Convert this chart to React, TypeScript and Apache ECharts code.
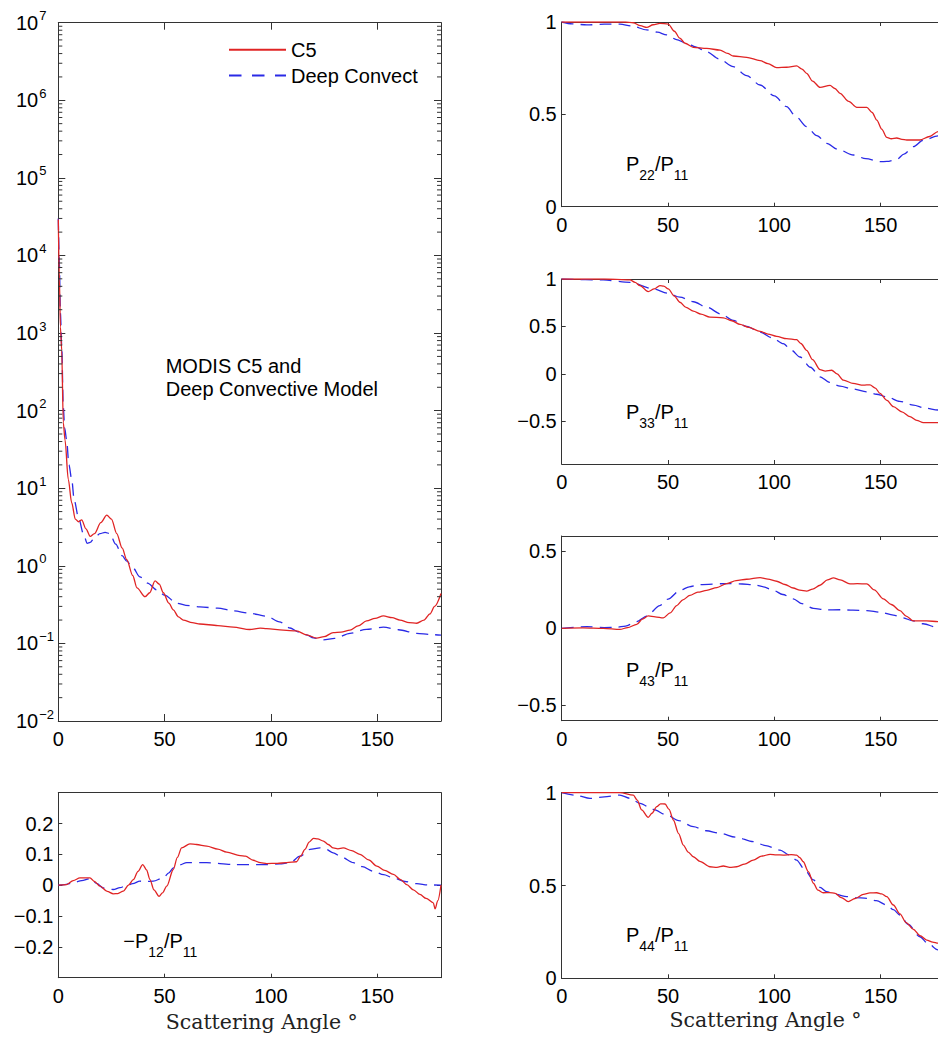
import React, { useEffect, useRef } from 'react';
import * as echarts from 'echarts';

const SANS = '"Liberation Sans", Arial, Helvetica, sans-serif';
const SERIF = '"DejaVu Serif", "Liberation Serif", serif';
const RED = '#e02424';
const BLUE = '#2a2ae6';
const AXIS = '#333333';

// ---- tick values ----
const xTicks = [0, 50, 100, 150];
const m12Ticks = [-0.2, -0.1, 0, 0.1, 0.2];
const p22Ticks = [0, 0.5, 1];
const p33Ticks = [-0.5, 0, 0.5, 1];
const p43Ticks = [-0.5, 0, 0.5];
const p44Ticks = [0, 0.5, 1];
const logMinorDecades = [-2, -1, 0, 1, 2, 3, 4, 5, 6];
const logMinorMultipliers = [2, 3, 4, 5, 6, 7, 8, 9];

// ---- data: [scattering angle, value] ----
const p11C5 = [[0,29000],[0.5,5000],[1,1200],[1.6,600],[2.35,70],[3.15,42],[4.7,13],[6.3,6.5],[8,4.0],[9.5,3.7],[11,3.9],[13,3.0],[15,2.4],[17,2.6],[20,3.6],[22.8,4.5],[25,4.0],[27.5,2.6],[30,1.7],[32.2,1.2],[35,0.75],[37,0.52],[40.8,0.40],[43,0.45],[45.5,0.64],[47.5,0.58],[49.4,0.45],[52,0.33],[54.1,0.27],[56.5,0.22],[58.8,0.20],[63,0.185],[66.6,0.178],[75,0.17],[82.3,0.162],[90,0.151],[95,0.157],[98,0.155],[105.8,0.148],[112,0.145],[116.8,0.129],[121.5,0.117],[125,0.122],[129.3,0.138],[133,0.140],[137.2,0.148],[141,0.168],[145,0.195],[149,0.21],[152.9,0.226],[157,0.215],[160.7,0.20],[165,0.185],[168.6,0.182],[172,0.20],[174.8,0.24],[177,0.30],[180,0.44]];
const p11Deep = [[0,30000],[0.5,8000],[1,1800],[1.6,700],[2.35,112],[3,60],[3.9,42],[5,20],[6.3,13],[7.5,7],[9.4,4.3],[11.8,2.6],[13.6,1.95],[15,2.0],[17,2.3],[19.6,2.6],[22,2.7],[24.3,2.6],[27,1.9],[30,1.35],[32.2,1.15],[35,0.95],[38.4,0.72],[42,0.6],[46.3,0.49],[50,0.42],[55.7,0.33],[60,0.31],[66.6,0.295],[75,0.285],[82.3,0.263],[90,0.245],[98,0.224],[104,0.19],[109,0.158],[113,0.14],[116.8,0.129],[120,0.118],[124.7,0.111],[130,0.116],[137.2,0.135],[145,0.152],[152.9,0.162],[160,0.15],[168.6,0.135],[175,0.13],[180,0.128]];

const m12C5 = [[0,0],[3.9,0.002],[7,0.015],[10.2,0.024],[14.9,0.024],[17,0.012],[19.6,-0.003],[23,-0.02],[25.9,-0.028],[28,-0.027],[30.6,-0.019],[33,0],[35.3,0.018],[37.5,0.045],[39.7,0.067],[41.5,0.05],[43.1,0.018],[45,-0.015],[47.4,-0.036],[49,-0.025],[51,-0.003],[54.1,0.051],[56,0.09],[58,0.121],[61.9,0.134],[65,0.132],[69.8,0.127],[75,0.117],[79.2,0.107],[85.5,0.096],[88,0.094],[91.7,0.081],[95,0.073],[98,0.070],[103,0.071],[107.4,0.073],[112.1,0.076],[114,0.095],[116,0.116],[118,0.14],[120,0.152],[122,0.15],[124.7,0.143],[127,0.132],[129.3,0.121],[131.5,0.118],[134,0.121],[138,0.112],[141.9,0.100],[146,0.082],[149.8,0.062],[153.5,0.048],[157.6,0.035],[161,0.018],[163.9,0.002],[167,-0.015],[170.1,-0.030],[173,-0.043],[176.4,-0.057],[177.2,-0.077],[178.5,-0.05],[180,0]];
const m12Deep = [[0,0],[3,0.002],[7,0.008],[11,0.015],[14.9,0.021],[18,0.006],[21.2,-0.009],[25.9,-0.014],[29,-0.008],[32.2,-0.001],[35,0.005],[38.4,0.013],[41,0.012],[44.7,0.013],[49.4,0.024],[52,0.04],[54.1,0.056],[57,0.066],[60.4,0.073],[69.8,0.073],[82.3,0.067],[98,0.067],[104,0.069],[109,0.073],[113.7,0.094],[118.4,0.116],[123.1,0.121],[126,0.116],[129.3,0.105],[133,0.092],[138.8,0.073],[143,0.06],[148.2,0.045],[153,0.034],[157.6,0.024],[163,0.012],[168.6,0.005],[174,0.001],[180,0]];

const p22C5 = [[0,1],[10,1],[20,1],[30,1],[33.7,0.996],[37,0.98],[40,0.971],[43,0.985],[46.2,0.993],[50.1,0.989],[53,0.95],[55.6,0.912],[58,0.885],[61.9,0.863],[68.2,0.857],[74.5,0.848],[78,0.83],[80.7,0.816],[87,0.809],[93.3,0.791],[97,0.775],[101.1,0.753],[105.8,0.755],[110.5,0.762],[113,0.745],[115.2,0.722],[118,0.68],[121.5,0.646],[126.2,0.657],[128.5,0.64],[130.9,0.614],[135,0.57],[138.8,0.538],[143.5,0.538],[146,0.51],[148.2,0.469],[150.5,0.42],[152.9,0.375],[155,0.368],[157.6,0.372],[160,0.365],[162.3,0.361],[168.5,0.361],[173,0.38],[177,0.406],[180,0.42]];
const p22Deep = [[0,1],[5,0.99],[11.8,0.984],[20,0.988],[27.4,0.989],[33,0.978],[40,0.957],[45,0.945],[49.4,0.93],[54,0.905],[58.8,0.884],[63,0.865],[68.2,0.839],[74,0.8],[80.7,0.758],[87,0.71],[93.3,0.659],[100,0.6],[105.8,0.542],[110,0.49],[115.2,0.433],[120,0.385],[124.6,0.343],[130,0.31],[137.2,0.28],[143,0.26],[149.7,0.244],[153,0.245],[157.6,0.256],[161,0.285],[165.4,0.325],[170,0.36],[177,0.383],[180,0.39]];

const p33C5 = [[0,1],[20,1],[32.1,0.99],[34.5,0.965],[36.8,0.93],[40.7,0.867],[43.5,0.895],[46.2,0.93],[48,0.925],[50.1,0.895],[53,0.82],[55.6,0.755],[58.5,0.7],[61.9,0.661],[65.5,0.63],[69.7,0.598],[76,0.591],[80,0.56],[83.9,0.521],[88,0.49],[93.3,0.448],[97,0.42],[101.1,0.395],[105.8,0.371],[110.5,0.36],[112.5,0.32],[115.2,0.248],[118,0.15],[121.5,0.045],[124,0.03],[127,0.038],[129.5,0],[132.5,-0.066],[137,-0.1],[141.9,-0.119],[145,-0.115],[147.5,-0.15],[149.7,-0.206],[153,-0.28],[156,-0.346],[160,-0.4],[163.8,-0.451],[167,-0.49],[170.1,-0.514],[177,-0.514],[180,-0.5]];
const p33Deep = [[0,1],[19.6,0.99],[32.1,0.965],[43.1,0.895],[50,0.85],[55.6,0.808],[62,0.76],[68.2,0.703],[75,0.63],[80.7,0.563],[87,0.5],[93.3,0.441],[99,0.38],[104.2,0.318],[108,0.25],[112.1,0.178],[117,0.07],[121.5,-0.031],[126,-0.09],[130.9,-0.129],[137,-0.16],[143.5,-0.189],[148,-0.215],[152.9,-0.241],[159,-0.29],[165.4,-0.329],[171,-0.36],[177,-0.381],[180,-0.385]];

const p43C5 = [[0,0],[10,0.003],[19.6,0],[27.4,-0.007],[31,0.005],[35.3,0.026],[38,0.06],[40.7,0.081],[44,0.075],[47.8,0.068],[51,0.1],[54.1,0.148],[57,0.185],[60.3,0.214],[64,0.235],[68.2,0.247],[73,0.265],[77.6,0.291],[82,0.31],[87,0.319],[93.3,0.33],[97,0.32],[101.1,0.306],[105,0.285],[108.9,0.262],[112,0.248],[115.2,0.242],[118,0.255],[121.5,0.28],[125,0.315],[127.8,0.328],[131,0.315],[135.6,0.289],[139,0.29],[143.5,0.289],[147,0.25],[151.3,0.192],[155,0.155],[159.1,0.115],[162,0.08],[165.4,0.048],[171.7,0.048],[177,0.044],[180,0.04]];
const p43Deep = [[0,0],[11.8,0.011],[20,0.005],[25.9,0.007],[30,0.015],[35.3,0.044],[40,0.08],[46.2,0.148],[50,0.19],[55.6,0.247],[60,0.27],[65,0.284],[77.6,0.291],[85,0.288],[90.1,0.284],[95,0.27],[99.5,0.247],[104,0.22],[108.9,0.192],[113,0.16],[118.4,0.13],[124,0.12],[130.9,0.121],[137,0.118],[143.5,0.115],[150,0.105],[156,0.086],[160,0.07],[165.4,0.048],[170,0.03],[177,0.004],[180,0]];

const p44C5 = [[0,1],[27.4,1],[33.7,0.987],[35.5,0.96],[37.6,0.907],[40.7,0.867],[42.5,0.89],[44.7,0.925],[46.5,0.94],[48.6,0.939],[50.5,0.91],[52.5,0.853],[55,0.78],[57.2,0.718],[59.5,0.68],[61.9,0.655],[65,0.63],[69.7,0.601],[73,0.598],[76,0.605],[79,0.598],[82.3,0.601],[86,0.615],[90.1,0.637],[94,0.658],[98,0.668],[101,0.665],[104.2,0.664],[108,0.666],[110.5,0.664],[112,0.65],[113.6,0.628],[116,0.575],[118.4,0.512],[120.5,0.475],[123,0.461],[126,0.462],[128.6,0.458],[131.5,0.435],[134.8,0.413],[138,0.43],[141.9,0.452],[145,0.46],[148.2,0.461],[150.5,0.455],[152.9,0.44],[156,0.395],[159.1,0.347],[162,0.3],[165.4,0.264],[168.5,0.23],[171.7,0.206],[174.5,0.195],[177,0.189],[180,0.188]];
const p44Deep = [[0,1],[7,0.985],[13.3,0.969],[20,0.978],[27.4,0.987],[32,0.97],[36.8,0.943],[43,0.91],[49.4,0.88],[55,0.85],[61.9,0.817],[68,0.795],[74.5,0.781],[82,0.76],[90.1,0.736],[96,0.715],[102.7,0.691],[107,0.665],[110.5,0.637],[114,0.59],[118.4,0.53],[121.5,0.49],[124.6,0.467],[129,0.452],[134.1,0.44],[138,0.435],[143.5,0.431],[148,0.418],[152.9,0.395],[156,0.37],[159.1,0.341],[163,0.29],[168.5,0.224],[172,0.19],[177,0.153],[180,0.145]];

// ---- layout ----
const panels: any[] = [
  { grid: { left: 58.3, top: 22.7, width: 382.7, height: 698.3 }, tick: 7, log: true, yMin: 0.01, yMax: 1e7, yTicks: null, c5: p11C5, deep: p11Deep },
  { grid: { left: 58.3, top: 792.7, width: 382.7, height: 185 }, tick: 4, yMin: -0.3, yMax: 0.3, yTicks: m12Ticks, c5: m12C5, deep: m12Deep },
  { grid: { left: 561.7, top: 22, width: 382.7, height: 184.7 }, tick: 4, yMin: 0, yMax: 1, yTicks: p22Ticks, c5: p22C5, deep: p22Deep },
  { grid: { left: 561.7, top: 279, width: 382.7, height: 185 }, tick: 4, yMin: -0.95, yMax: 1, yTicks: p33Ticks, c5: p33C5, deep: p33Deep },
  { grid: { left: 561.7, top: 536, width: 382.7, height: 184.7 }, tick: 4, yMin: -0.6, yMax: 0.6, yTicks: p43Ticks, c5: p43C5, deep: p43Deep },
  { grid: { left: 561.7, top: 792.7, width: 382.7, height: 185.6 }, tick: 4, yMin: 0, yMax: 1, yTicks: p44Ticks, c5: p44C5, deep: p44Deep },
];

const axisLine = { show: true, onZero: false, lineStyle: { color: AXIS, width: 1 } };
const labelStyle = { color: '#000', fontSize: 20, fontFamily: SANS };
const linFmt = (v: number) => String(Math.round(v * 100) / 100).replace('-', '\u2212');
const logFmt = (v: number) => {
  const e = Math.round(Math.log10(v));
  return `{b|10}{s|${e < 0 ? '\u2212' + -e : e}}`;
};

function subLabel(x: number, y: number, text: string) {
  return {
    type: 'text', x, y, silent: true,
    style: {
      text, align: 'left', verticalAlign: 'middle',
      fontSize: 20, fontFamily: SANS, fill: '#000',
      rich: {
        b: { fontSize: 20, fontFamily: SANS, fill: '#000' },
        s: { fontSize: 14, fontFamily: SANS, fill: '#000', padding: [22, 0, 0, 0] },
      },
    },
  };
}

function buildOption() {
  const grid = panels.map((p) => ({ ...p.grid, containLabel: false, outerBoundsMode: 'none' }));
  const xAxis: any[] = [];
  const yAxis: any[] = [];
  const series: any[] = [];
  panels.forEach((p, i) => {
    const xTick = { show: true, inside: true, length: p.tick, customValues: xTicks, lineStyle: { color: AXIS, width: 1 } };
    const xBase = { type: 'value', gridIndex: i, min: 0, max: 180, splitLine: { show: false }, axisLine };
    xAxis.push({ ...xBase, position: 'bottom', axisTick: xTick, axisLabel: { show: true, customValues: xTicks, margin: 8, ...labelStyle } });
    xAxis.push({ ...xBase, position: 'top', axisTick: xTick, axisLabel: { show: false } });

    const yBase = p.log
      ? { type: 'log', logBase: 10, min: p.yMin, max: p.yMax }
      : { type: 'value', min: p.yMin, max: p.yMax };
    const yTick: any = { show: true, inside: true, length: p.tick, lineStyle: { color: AXIS, width: 1 } };
    if (p.yTicks) yTick.customValues = p.yTicks;
    const yLabel: any = p.log
      ? {
          show: true, margin: 42.3, align: 'left', ...labelStyle, formatter: logFmt,
          rich: {
            b: { fontSize: 20, fontFamily: SANS, color: '#000' },
            s: { fontSize: 13, fontFamily: SANS, color: '#000', padding: [0, 0, 14, 1] },
          },
        }
      : { show: true, margin: 5, ...labelStyle, customValues: p.yTicks, formatter: linFmt };
    yAxis.push({ ...yBase, gridIndex: i, position: 'left', splitLine: { show: false }, axisLine, axisTick: yTick, axisLabel: yLabel });
    yAxis.push({ ...yBase, gridIndex: i, position: 'right', splitLine: { show: false }, axisLine, axisTick: yTick, axisLabel: { show: false } });

    series.push({
      type: 'line', name: 'Deep Convect', xAxisIndex: 2 * i, yAxisIndex: 2 * i, data: p.deep,
      symbol: 'none', showSymbol: false, smooth: 0.3, smoothMonotone: 'x', silent: true, z: 3,
      lineStyle: { color: BLUE, width: 1.3, type: [12, 7] }, itemStyle: { color: BLUE },
    });
    series.push({
      type: 'line', name: 'C5', xAxisIndex: 2 * i, yAxisIndex: 2 * i, data: p.c5,
      symbol: 'none', showSymbol: false, smooth: 0.3, smoothMonotone: 'x', silent: true, z: 4,
      lineStyle: { color: RED, width: 1.3, type: 'solid' }, itemStyle: { color: RED },
    });
  });

  // log minor ticks on left & right edges of the P11 panel
  const minorData: number[][] = [];
  logMinorDecades.forEach((d) => logMinorMultipliers.forEach((m) => minorData.push([0, m * Math.pow(10, d)])));
  series.push({
    type: 'custom', xAxisIndex: 0, yAxisIndex: 0, silent: true, z: 5,
    encode: { x: 0, y: 1 }, data: minorData,
    renderItem: (_params: any, api: any) => {
      const v = api.value(1);
      const a = api.coord([0, v]);
      const b = api.coord([180, v]);
      return {
        type: 'group',
        children: [
          { type: 'line', shape: { x1: a[0], y1: a[1], x2: a[0] + 4, y2: a[1] }, style: { stroke: AXIS, lineWidth: 1 } },
          { type: 'line', shape: { x1: b[0] - 4, y1: b[1], x2: b[0], y2: b[1] }, style: { stroke: AXIS, lineWidth: 1 } },
        ],
      };
    },
  });

  return {
    animation: false,
    backgroundColor: '#ffffff',
    grid, xAxis, yAxis, series,
    legend: {
      data: [
        { name: 'C5' },
        { name: 'Deep Convect', lineStyle: { type: [12.5, 10.5] } },
      ],
      orient: 'vertical', left: 228, top: 38.8,
      itemWidth: 57, itemHeight: 14, itemGap: 3.7, padding: 0, selectedMode: false,
      itemStyle: { opacity: 0, borderWidth: 0 },
      textStyle: { fontSize: 20, fontFamily: SANS, color: '#000', lineHeight: 22 },
    },
    graphic: {
      elements: [
        { type: 'text', x: 165.7, y: 366, silent: true, style: { text: 'MODIS C5 and', fontSize: 20, fontFamily: SANS, fill: '#000', align: 'left', verticalAlign: 'middle' } },
        { type: 'text', x: 165.7, y: 389.3, silent: true, style: { text: 'Deep Convective Model', fontSize: 20, fontFamily: SANS, fill: '#000', align: 'left', verticalAlign: 'middle' } },
        subLabel(123.3, 941, '{b|\u2212P}{s|12}{b|/P}{s|11}'),
        subLabel(626, 163.5, '{b|P}{s|22}{b|/P}{s|11}'),
        subLabel(626, 412, '{b|P}{s|33}{b|/P}{s|11}'),
        subLabel(626, 669.5, '{b|P}{s|43}{b|/P}{s|11}'),
        subLabel(626, 935, '{b|P}{s|44}{b|/P}{s|11}'),
        { type: 'text', x: 261.7, y: 1021.7, silent: true, style: { text: 'Scattering Angle \u00b0', fontSize: 20.5, fontFamily: SERIF, fill: '#222', align: 'center', verticalAlign: 'middle' } },
        { type: 'text', x: 765.5, y: 1020, silent: true, style: { text: 'Scattering Angle \u00b0', fontSize: 20.5, fontFamily: SERIF, fill: '#222', align: 'center', verticalAlign: 'middle' } },
      ],
    },
  };
}

export default function App() {
  const ref = useRef<HTMLDivElement>(null);
  useEffect(() => {
    if (!ref.current) return;
    const chart = echarts.init(ref.current, undefined, { renderer: 'svg' });
    chart.setOption(buildOption() as any);
    return () => chart.dispose();
  }, []);
  return (
    <div
      ref={ref}
      style={{ position: 'fixed', left: 0, top: 0, width: 938, height: 1038, background: '#fff' }}
    />
  );
}
